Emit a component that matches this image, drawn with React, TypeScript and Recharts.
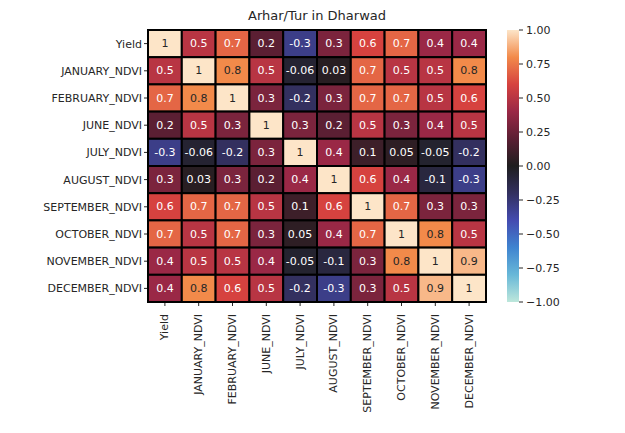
import { ScatterChart, Scatter, XAxis, YAxis } from "recharts"

const labels = [
  "Yield", "JANUARY_NDVI", "FEBRUARY_NDVI", "JUNE_NDVI", "JULY_NDVI",
  "AUGUST_NDVI", "SEPTEMBER_NDVI", "OCTOBER_NDVI", "NOVEMBER_NDVI", "DECEMBER_NDVI",
]

const matrix = [
  [1, 0.5, 0.7, 0.2, -0.3, 0.3, 0.6, 0.7, 0.4, 0.4],
  [0.5, 1, 0.8, 0.5, -0.06, 0.03, 0.7, 0.5, 0.5, 0.8],
  [0.7, 0.8, 1, 0.3, -0.2, 0.3, 0.7, 0.7, 0.5, 0.6],
  [0.2, 0.5, 0.3, 1, 0.3, 0.2, 0.5, 0.3, 0.4, 0.5],
  [-0.3, -0.06, -0.2, 0.3, 1, 0.4, 0.1, 0.05, -0.05, -0.2],
  [0.3, 0.03, 0.3, 0.2, 0.4, 1, 0.6, 0.4, -0.1, -0.3],
  [0.6, 0.7, 0.7, 0.5, 0.1, 0.6, 1, 0.7, 0.3, 0.3],
  [0.7, 0.5, 0.7, 0.3, 0.05, 0.4, 0.7, 1, 0.8, 0.5],
  [0.4, 0.5, 0.5, 0.4, -0.05, -0.1, 0.3, 0.8, 1, 0.9],
  [0.4, 0.8, 0.6, 0.5, -0.2, -0.3, 0.3, 0.5, 0.9, 1],
]

const colorTicks = [1, 0.75, 0.5, 0.25, 0, -0.25, -0.5, -0.75, -1]

const stops: [number, string][] = [
  [-1, "#bde7db"], [-0.8, "#68b8d8"], [-0.6, "#3f84d0"], [-0.4, "#444bb0"],
  [-0.2, "#33305f"], [0, "#1f1e1f"], [0.2, "#5b1f33"], [0.4, "#9a2846"],
  [0.6, "#d6423f"], [0.8, "#f28a4a"], [1, "#fde5c8"],
]

const hex = (h: string) => [1, 3, 5].map((i) => parseInt(h.slice(i, i + 2), 16))

function colorFor(v: number) {
  for (let i = 0; i < stops.length - 1; i++) {
    const [a, ca] = stops[i]
    const [b, cb] = stops[i + 1]
    if (v <= b) {
      const t = (v - a) / (b - a)
      const x = hex(ca), y = hex(cb)
      return `rgb(${x.map((c, k) => Math.round(c + (y[k] - c) * t)).join(",")})`
    }
  }
  return stops[stops.length - 1][1]
}

const cells = matrix.flatMap((row, r) => row.map((v, c) => ({ x: c + 0.5, y: r + 0.5, v })))

const W = 625, H = 425
const M = { top: 22, right: 147, bottom: 31, left: 10 }
const yAxisW = 130, xAxisH = 100
const plotW = W - M.left - M.right - yAxisW
const plotH = H - M.top - M.bottom - xAxisH
const cw = plotW / 10, ch = plotH / 10
const font = "DejaVu Sans, sans-serif"

const Cell = (p: any) => {
  const v = p.payload.v
  return (
    <g>
      <rect x={p.cx - cw / 2} y={p.cy - ch / 2} width={cw} height={ch} fill={colorFor(v)} stroke="#000" strokeWidth={2} />
      <text x={p.cx} y={p.cy} textAnchor="middle" dominantBaseline="central" fontSize={11} fontFamily={font} fill={v >= 0.75 ? "#262626" : "#ffffff"}>
        {String(v)}
      </text>
    </g>
  )
}

const XTick = (p: any) => (
  <text x={p.x} y={p.y + 6} transform={`rotate(-90 ${p.x} ${p.y + 6})`} textAnchor="end" dominantBaseline="central" fontSize={11} fontFamily={font} fill="#262626">
    {labels[Math.floor(p.payload.value)]}
  </text>
)

export default function App() {
  const barX = 499, barY = M.top, barW = 12, barH = plotH
  return (
    <div style={{ position: "relative", width: W, height: H, fontFamily: font }}>
      <ScatterChart width={W} height={H} margin={M}>
        <text x={M.left + yAxisW + plotW / 2} y={12} textAnchor="middle" fontSize={13} fontFamily={font} fill="#262626">
          Arhar/Tur in Dharwad
        </text>
        <XAxis type="number" dataKey="x" domain={[0, 10]} ticks={labels.map((_, i) => i + 0.5)} height={xAxisH} tick={<XTick />} tickLine={{ stroke: "#262626" }} tickSize={4} axisLine={false} interval={0} />
        <YAxis type="number" dataKey="y" domain={[0, 10]} reversed ticks={labels.map((_, i) => i + 0.5)} width={yAxisW} tickFormatter={(v) => labels[Math.floor(v)]} tick={{ fontSize: 11, fill: "#262626", fontFamily: font }} tickLine={{ stroke: "#262626" }} tickSize={4} axisLine={false} interval={0} />
        <Scatter data={cells} shape={<Cell />} isAnimationActive={false} />
      </ScatterChart>
      <svg width={W} height={H} style={{ position: "absolute", left: 0, top: 0, pointerEvents: "none" }}>
        <defs>
          <linearGradient id="cb" x1="0" y1="1" x2="0" y2="0">
            {stops.map(([v, c]) => (
              <stop key={v} offset={`${((v + 1) / 2) * 100}%`} stopColor={c} />
            ))}
          </linearGradient>
        </defs>
        <rect x={barX} y={barY} width={barW} height={barH} fill="url(#cb)" />
        {colorTicks.map((t) => {
          const y = barY + ((1 - t) / 2) * barH
          return (
            <g key={t}>
              <line x1={barX + barW} x2={barX + barW + 4} y1={y} y2={y} stroke="#262626" />
              <text x={barX + barW + 7} y={y} dominantBaseline="central" fontSize={11} fontFamily={font} fill="#262626">
                {t < 0 ? "\u22121" === "" ? "" : `−${Math.abs(t).toFixed(2)}` : t.toFixed(2)}
              </text>
            </g>
          )
        })}
      </svg>
    </div>
  )
}
